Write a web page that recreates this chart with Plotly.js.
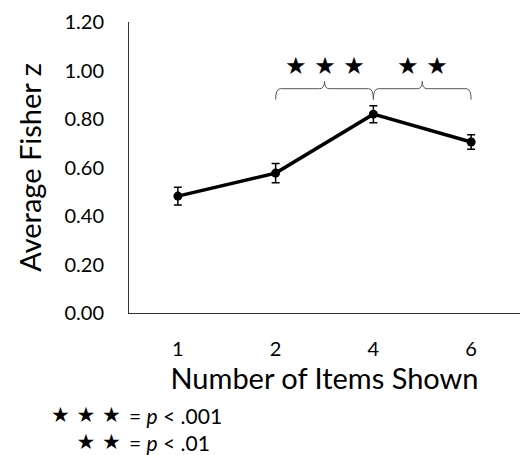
<!DOCTYPE html>
<html><head><meta charset="utf-8">
<script src="https://cdn.plot.ly/plotly-3.0.1.min.js"></script>
<style>html,body{margin:0;padding:0;background:#fff}#chart{width:520px;height:455px}</style>
</head><body><div id="chart"></div>
<script>
const categories = ['1', '2', '4', '6'];
const meanZ = [0.482, 0.577, 0.820, 0.705];
const seZ = [0.037, 0.040, 0.035, 0.030];
const yTickVals = [0, 0.2, 0.4, 0.6, 0.8, 1.0, 1.2];
const yTickText = ['0.00', '0.20', '0.40', '0.60', '0.80', '1.00', '1.20'];
const comparisons = [
  {from: 1, to: 2, level: 0.925, stars: '★ ★ ★'},
  {from: 2, to: 3, level: 0.925, stars: '★ ★'}
];
const legendStars = ['★ ★ ★', '★ ★'];
const legendText = ['= <i>p</i> < .001', '= <i>p</i> < .01'];

const FONT = 'Lato, "Open Sans", sans-serif';
const xIdx = categories.map((c, i) => i);

const trace = {
  x: xIdx, y: meanZ, type: 'scatter', mode: 'lines+markers',
  line: {color: '#000', width: 3.5},
  marker: {color: '#000', size: 9},
  error_y: {type: 'data', array: seZ, visible: true, color: '#000', thickness: 1.5, width: 4},
  hoverinfo: 'skip'
};

const shapes = [];
const annotations = [];
const dx = 0.05, dy = 0.045, tip = 0.03;
comparisons.forEach(c => {
  const x0 = c.from, x1 = c.to, xm = (x0 + x1) / 2, yb = c.level;
  const path = `M ${x0},${yb - dy} Q ${x0},${yb} ${x0 + dx},${yb} L ${xm - dx},${yb} ` +
    `Q ${xm},${yb} ${xm},${yb + tip} Q ${xm},${yb} ${xm + dx},${yb} L ${x1 - dx},${yb} ` +
    `Q ${x1},${yb} ${x1},${yb - dy}`;
  shapes.push({type: 'path', xref: 'x', yref: 'y', path: path, line: {color: '#555', width: 1}});
  annotations.push({x: xm, y: yb + 0.095, xref: 'x', yref: 'y', text: c.stars, showarrow: false,
    font: {family: 'DejaVu Sans', size: 24, color: '#000'}});
});
annotations.push({x: -0.018, y: -0.397, xref: 'paper', yref: 'paper', xanchor: 'right', yanchor: 'middle',
  align: 'right', text: legendStars.join('<br>'), showarrow: false, borderpad: 0,
  font: {family: 'DejaVu Sans', size: 21, color: '#000'}});
annotations.push({x: -0.002, y: -0.397, xref: 'paper', yref: 'paper', xanchor: 'left', yanchor: 'middle',
  align: 'left', text: legendText.join('<br>'), showarrow: false, borderpad: 0,
  font: {family: FONT, size: 21, color: '#000'}});

const layout = {
  width: 520, height: 455,
  margin: {l: 129, r: 0, t: 22, b: 142},
  paper_bgcolor: '#fff', plot_bgcolor: '#fff',
  showlegend: false,
  font: {family: FONT, color: '#000'},
  xaxis: {
    range: [-0.5, 3.5], tickvals: xIdx, ticktext: categories,
    showgrid: false, zeroline: false, showline: true, linecolor: '#333', linewidth: 1,
    ticks: '', ticklabelstandoff: 18, tickfont: {size: 20, family: FONT},
    title: {text: 'Number of Items Shown', font: {size: 29, family: FONT}, standoff: 8},
    fixedrange: true
  },
  yaxis: {
    range: [0, 1.2], tickvals: yTickVals, ticktext: yTickText,
    showgrid: false, zeroline: false, showline: true, linecolor: '#333', linewidth: 1,
    ticks: '', ticklabelstandoff: 20, tickfont: {size: 20, family: FONT},
    title: {text: 'Average Fisher z', font: {size: 29, family: FONT}, standoff: 14},
    fixedrange: true
  },
  shapes: shapes,
  annotations: annotations
};
Plotly.newPlot('chart', [trace], layout, {displayModeBar: false, staticPlot: true});
</script></body></html>
